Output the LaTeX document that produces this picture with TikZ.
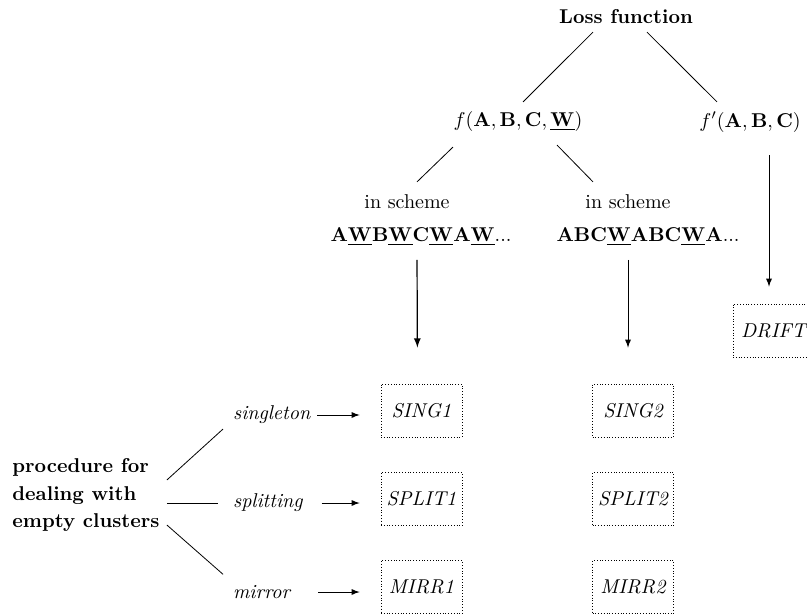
\documentclass[tikz,border=0pt]{standalone}
\usepackage{amsmath}
\usepackage{amsfonts}
\usepackage{amssymb}
\usepackage{tikz}
\usepackage{xcolor}

\begin{document}
\begin{tikzpicture}[x=0.5pt, y=-0.5pt, box/.style={draw, densely dotted, minimum width=40.5pt, minimum height=26.5pt, inner sep=1pt, font=\itshape}, arr/.style={->, >=latex}, lab/.style={anchor=west, font=\itshape}]
\clip (0,0) rectangle (807,614);
\node (loss) at (626,17) {\textbf{Loss function}};
\node (f) at (518,122) {$f(\mathbf{A},\mathbf{B},\mathbf{C},\underline{\mathbf{W}})$};
\node (fp) at (750,122) {$f'(\mathbf{A},\mathbf{B},\mathbf{C})$};
\node (in1) at (407,202) {in scheme};
\node (w1) at (421,237) {$\mathbf{A\underline{W}B\underline{W}C\underline{W}A\underline{W}}$...};
\node (in2) at (628,202) {in scheme};
\node (w2) at (648,237) {$\mathbf{ABC\underline{W}ABC\underline{W}A}$...};
\node[box] (drift) at (773.5,330.5) {DRIFT};
\node[box] (sing1) at (421.5,410.5) {SING1};
\node[box] (split1) at (421.5,499) {SPLIT1};
\node[box] (mirr1) at (421.5,587) {MIRR1};
\node[box] (sing2) at (633,410.5) {SING2};
\node[box] (split2) at (633,499) {SPLIT2};
\node[box] (mirr2) at (633,587) {MIRR2};
\node[anchor=west, inner sep=0, align=left, font=\bfseries] (proc) at (12,495) {procedure for\\[1.75pt]dealing with\\[1.75pt]empty clusters};
\node[lab] (single) at (226,415) {singleton};
\node[lab] (split) at (226,503) {splitting};
\node[lab] (mirror) at (226,592) {mirror};
\draw ([shift={(-33,1)}]loss.south) -- ([shift={(5,-3)}]f.north);
\draw ([shift={(21,1)}]loss.south) -- ([shift={(-33,-3)}]fp.north);
\draw ([shift={(-65,8)}]f.south) -- ([shift={(10,-6)}]in1.north);
\draw ([shift={(39,6)}]f.south) -- ([shift={(-35,-6)}]in2.north);
\draw[arr, line width=0.6pt, shorten <=3.5pt, shorten >=18pt] ([xshift=-2pt]w1.south) -- ([xshift=-2pt]sing1.north);
\draw[arr, shorten <=3.5pt, shorten >=18pt] (w2.south -| in2) -- (sing2.north -| in2);
\draw[arr, shorten <=8pt, shorten >=8.5pt] ([xshift=-2.25pt]fp.south -| drift) -- ([xshift=-2.25pt]drift.north);
\draw ([shift={(7,-15)}]proc.east) -- ([shift={(-3,-2)}]single.south west);
\draw ([shift={(7,8)}]proc.east) -- ([xshift=-4pt]split.west);
\draw ([shift={(7,30)}]proc.east) -- ([shift={(-3,-4)}]mirror.north west);
\draw[arr, shorten >=10.5pt] (single.east) -- (single.east -| sing1.west);
\draw[arr, shorten <=6pt, shorten >=10.5pt] (split.east) -- (split.east -| split1.west);
\draw[arr, shorten <=10.5pt, shorten >=10.5pt] (mirror.east) -- (mirror.east -| mirr1.west);
\end{tikzpicture}
\end{document}
